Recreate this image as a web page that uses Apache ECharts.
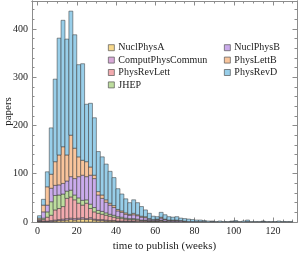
<!DOCTYPE html>
<html><head><meta charset="utf-8">
<script src="https://cdn.jsdelivr.net/npm/echarts@6/dist/echarts.min.js"></script>
<style>html,body{margin:0;padding:0;background:#fff}#c{width:299px;height:253px}</style>
</head><body><div id="c"></div>
<script>
// bins of 2 weeks, starting at 0
const binWidth = 2;
const seriesNames = ["NuclPhysA","ComputPhysCommun","PhysRevLett","JHEP","NuclPhysB","PhysLettB","PhysRevD"];
const NuclPhysA = [0,1,1,1,2,3,3,4,5,4, 5,6,5,6,4,3,3,2,2,2, 1,1,1,1,1,1,0,1,0,0, 1,0,0,0,0,0,0,0,0,0, 0,0,0,0,0,0,0,0,0,0, 0,0,0,0,0,0,0,0,0,0, 0,0,0,0,0];
const ComputPhysCommun = [1,1,1,2,2,2,3,3,3,3, 3,3,2,3,2,2,2,2,1,1, 1,1,1,1,1,0,1,0,1,0, 0,1,0,0,0,0,0,0,0,0, 0,0,0,0,0,0,0,0,0,0, 0,0,0,0,0,0,0,0,0,0, 0,0,0,0,0];
const PhysRevLett = [1,3,8,11,21,23,26,42,44,39, 31,26,32,19,15,13,11,10,9,7, 6,5,4,3,3,3,2,2,1,1, 1,2,1,1,1,1,0,0,0,0, 0,0,0,0,0,0,0,0,0,0, 0,0,0,0,0,0,0,0,0,0, 0,0,0,0,0];
const JHEP = [1,3,11,28,30,28,26,15,14,10, 11,10,7,9,9,6,6,5,4,4, 3,3,2,2,2,2,1,1,1,1, 1,1,1,0,0,0,0,0,0,0, 0,0,0,0,0,0,0,0,0,0, 0,0,0,0,0,0,0,0,0,0, 0,0,0,0,0];
const NuclPhysB = [2,13,14,28,21,21,22,21,28,34, 44,52,48,60,60,32,27,22,19,16, 12,10,8,7,8,7,6,5,3,2, 2,4,3,2,2,2,2,1,1,1, 1,1,1,0,1,0,0,0,0,1, 1,0,0,1,0,0,0,1,0,0, 0,0,0,0,0];
const PhysLettB = [3,14,38,29,49,62,76,54,86,63, 41,31,31,17,7,7,7,5,4,4, 3,3,3,2,3,2,2,2,1,1, 1,2,1,1,1,1,1,1,0,0, 0,0,0,0,0,0,0,0,0,0, 0,0,0,0,0,0,0,0,0,0, 0,0,0,0,0];
const PhysRevD = [5,12,31,96,171,242,262,240,257,235, 191,200,119,132,119,83,79,74,66,58, 43,35,29,24,28,25,20,14,11,7, 5,10,9,7,6,7,5,5,5,4, 3,3,2,2,1,1,2,1,1,1, 2,1,2,3,1,1,1,1,1,1, 1,2,1,1,1];
const xMajorTicks = [0,20,40,60,80,100,120];
const yMajorTicks = [0,100,200,300,400];

const values = [NuclPhysA,ComputPhysCommun,PhysRevLett,JHEP,NuclPhysB,PhysLettB,PhysRevD];
const colors = ['#f8d98c','#d9a9d9','#f2aaae','#bddd9e','#caabeb','#f9c59c','#98cee9'];

const xMinorTicks = []; for (let v=0; v<=130; v+=5) if (v%20) xMinorTicks.push(v);
const yMinorTicks = []; for (let v=0; v<=440; v+=20) if (v%100) yMinorTicks.push(v);

const cum = new Array(PhysRevD.length).fill(0);
const series = values.map((arr,si)=>{
  const data = arr.map((v,i)=>{ const b=cum[i]; cum[i]+=v; return [i*binWidth,(i+1)*binWidth,b,b+v]; }).filter(d=>d[3]>d[2]);
  return {
    type:'custom', name:seriesNames[si], xAxisIndex:0, yAxisIndex:0,
    itemStyle:{color:colors[si], borderColor:'#555', borderWidth:0.7},
    encode:{x:[0,1], y:[2,3]},
    data:data,
    renderItem:function(params, api){
      const p0 = api.coord([api.value(0), api.value(2)]);
      const p1 = api.coord([api.value(1), api.value(3)]);
      return {type:'rect', shape:{x:p0[0], y:p1[1], width:p1[0]-p0[0], height:p0[1]-p1[1]},
        style:{fill:colors[si], stroke:'rgba(55,55,55,0.75)', lineWidth:0.7}};
    }
  };
});

const frame = '#8c8c8c';
const font = 'Liberation Serif';
function xAx(pos, ticks, len, labels, name){
  return {type:'value', position:pos, min:-2.8, max:132.2, gridIndex:0,
    axisLine:{show:true, onZero:false, lineStyle:{color:frame, width:1}},
    splitLine:{show:false},
    axisTick:{show:true, inside:true, length:len, customValues:ticks, lineStyle:{color:frame}},
    axisLabel:{show:labels, customValues:ticks, fontFamily:font, fontSize:10, color:'#222', margin:4},
    name:name||'', nameLocation:'middle', nameGap:19, nameMoveOverlap:false,
    nameTextStyle:{fontFamily:font, fontSize:11, color:'#222', verticalAlign:'top'}};
}
function yAx(pos, ticks, len, labels, name){
  return {type:'value', position:pos, min:0, max:458, gridIndex:0,
    axisLine:{show:true, onZero:false, lineStyle:{color:frame, width:1}},
    splitLine:{show:false},
    axisTick:{show:true, inside:true, length:len, customValues:ticks, lineStyle:{color:frame}},
    axisLabel:{show:labels, customValues:ticks, fontFamily:font, fontSize:10, color:'#222', margin:4},
    name:name||'', nameLocation:'middle', nameGap:18, nameRotate:90, nameMoveOverlap:false,
    nameTextStyle:{fontFamily:font, fontSize:11, color:'#222', verticalAlign:'bottom', align:'center'}};
}

const legendCommon = {orient:'vertical', icon:'rect', itemWidth:6, itemHeight:6, itemGap:0,
  itemStyle:{borderColor:'#555', borderWidth:0.7},
  textStyle:{fontFamily:font, fontSize:10, color:'#222', lineHeight:12.4, padding:[0,0,0,-1]}};

const chart = echarts.init(document.getElementById('c'), null, {renderer:'canvas'});
chart.setOption({
  animation:false,
  backgroundColor:'#fff',
  grid:{left:32, top:1, width:265, height:221, containLabel:false, outerBoundsMode:'none'},
  xAxis:[xAx('bottom', xMajorTicks, 4.5, true, 'time to publish (weeks)'), xAx('bottom', xMinorTicks, 2.5, false),
         xAx('top', xMajorTicks, 4.5, false), xAx('top', xMinorTicks, 2.5, false)],
  yAxis:[yAx('left', yMajorTicks, 4.5, true, 'papers'), yAx('left', yMinorTicks, 2.5, false),
         yAx('right', yMajorTicks, 4.5, false), yAx('right', yMinorTicks, 2.5, false)],
  legend:[
    Object.assign({left:103, top:36.5, data:seriesNames.slice(0,4)}, legendCommon),
    Object.assign({left:219, top:36.5, data:seriesNames.slice(4)}, legendCommon)
  ],
  series:series
});
</script></body></html>
